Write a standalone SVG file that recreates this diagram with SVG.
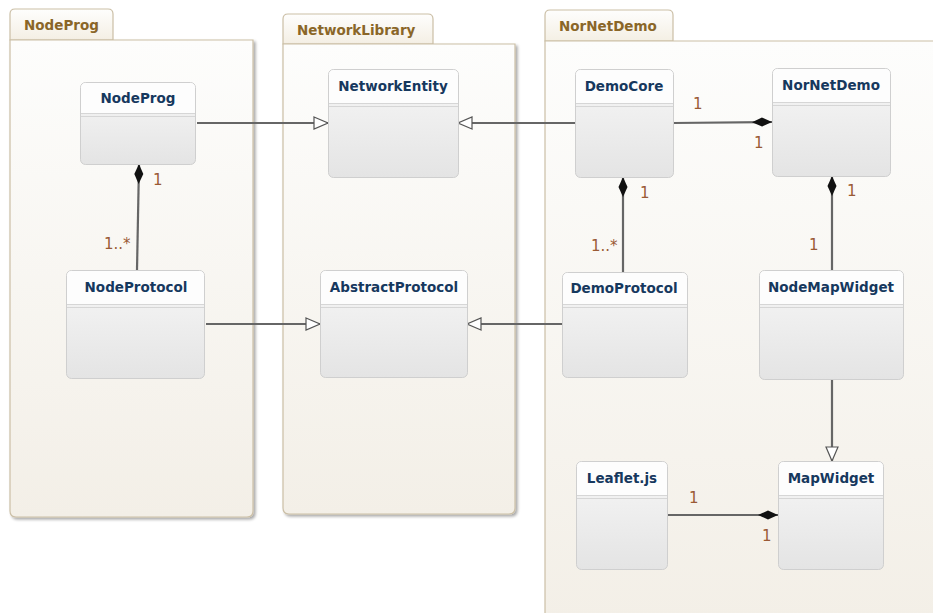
<svg xmlns="http://www.w3.org/2000/svg" width="933" height="613" viewBox="0 0 933 613">
  <defs>
    <linearGradient id="pkgBody" x1="0" y1="0" x2="0" y2="1">
      <stop offset="0" stop-color="#fdfdfc"/>
      <stop offset="1" stop-color="#f3efe7"/>
    </linearGradient>
    <linearGradient id="pkgTab" x1="0" y1="0" x2="0" y2="1">
      <stop offset="0" stop-color="#fefefd"/>
      <stop offset="1" stop-color="#f4efe4"/>
    </linearGradient>
    <linearGradient id="clsBody" x1="0" y1="0" x2="0" y2="1">
      <stop offset="0" stop-color="#f7f7f7"/>
      <stop offset="1" stop-color="#e4e4e4"/>
    </linearGradient>
    <filter id="shadow" x="-5%" y="-5%" width="110%" height="110%">
      <feGaussianBlur in="SourceAlpha" stdDeviation="1.5"/>
      <feOffset dx="2" dy="2"/>
      <feComponentTransfer><feFuncA type="linear" slope="0.35"/></feComponentTransfer>
      <feMerge><feMergeNode/><feMergeNode in="SourceGraphic"/></feMerge>
    </filter>
    <marker id="inherit" viewBox="0 0 16 14" refX="15" refY="7" markerWidth="16" markerHeight="14" markerUnits="userSpaceOnUse" orient="auto">
      <path d="M1,1 L15,7 L1,13 Z" fill="#ffffff" stroke="#555" stroke-width="1.2"/>
    </marker>
    <marker id="compose" viewBox="0 0 22 12" refX="21" refY="6" markerWidth="22" markerHeight="12" markerUnits="userSpaceOnUse" orient="auto">
      <path d="M1,6 L11,1.5 L21,6 L11,10.5 Z" fill="#111"/>
    </marker>
  </defs>
  <style>
    .pkg { fill: url(#pkgBody); stroke: #cbbfa6; stroke-width: 1.2; }
    .tab { fill: url(#pkgTab); stroke: #cbbfa6; stroke-width: 1.2; }
    .tabtxt { font-family: "DejaVu Sans", "Liberation Sans", sans-serif; font-weight: bold; font-size: 13.5px; fill: #8a6628; }
    .cls { fill: url(#clsBody); stroke: #cfcfcf; stroke-width: 1; }
    .hdr { fill: #fdfdfd; }
    .div { stroke: #d6d6d6; stroke-width: 1; fill: none; }
    .name { font-family: "DejaVu Sans", "Liberation Sans", sans-serif; font-weight: bold; font-size: 13.5px; fill: #16385e; text-anchor: middle; }
    .edge { stroke: #666; stroke-width: 2.2; fill: none; }
    .mult { font-family: "DejaVu Sans", "Liberation Sans", sans-serif; font-size: 15px; fill: #9a5a35; }
  </style>

  <rect width="933" height="613" fill="#ffffff"/>

  <!-- packages -->
  <g id="pkg-NodeProg">
    <path class="tab" d="M10,40 V14 Q10,9 15,9 H108 Q113,9 113,14 V40 Z"/>
    <path class="pkg" filter="url(#shadow)" d="M10,40 H253 V511 Q253,517 247,517 H16 Q10,517 10,511 Z"/>
    <text class="tabtxt" x="24" y="30">NodeProg</text>
  </g>
  <g id="pkg-NetworkLibrary">
    <path class="tab" d="M283,44 V19 Q283,14 288,14 H428 Q433,14 433,19 V44 Z"/>
    <path class="pkg" filter="url(#shadow)" d="M283,44 H515 V508 Q515,514 509,514 H289 Q283,514 283,508 Z"/>
    <text class="tabtxt" x="297" y="35">NetworkLibrary</text>
  </g>
  <g id="pkg-NorNetDemo">
    <path class="tab" d="M545,41 V15 Q545,10 550,10 H668 Q673,10 673,15 V41 Z"/>
    <path class="pkg" d="M545,41 H940 V620 H545 Z"/>
    <text class="tabtxt" x="559" y="31">NorNetDemo</text>
  </g>

  <!-- connectors -->
  <g id="connectors">
    <line class="edge" x1="197" y1="123" x2="328" y2="123" marker-end="url(#inherit)"/>
    <line class="edge" x1="575" y1="123" x2="458" y2="123" marker-end="url(#inherit)"/>
    <line class="edge" x1="206" y1="324" x2="320" y2="324" marker-end="url(#inherit)"/>
    <line class="edge" x1="562" y1="324" x2="467" y2="324" marker-end="url(#inherit)"/>
    <line class="edge" x1="832" y1="379" x2="832" y2="461" marker-end="url(#inherit)"/>
    <line class="edge" x1="673" y1="123" x2="772" y2="122" marker-end="url(#compose)"/>
    <line class="edge" x1="137" y1="270" x2="139" y2="164" marker-end="url(#compose)"/>
    <line class="edge" x1="623" y1="272" x2="623" y2="177" marker-end="url(#compose)"/>
    <line class="edge" x1="832" y1="270" x2="832" y2="176" marker-end="url(#compose)"/>
    <line class="edge" x1="667" y1="515" x2="778" y2="515" marker-end="url(#compose)"/>

    <text class="mult" x="153" y="185">1</text>
    <text class="mult" x="104" y="249">1..*</text>
    <text class="mult" x="693" y="109">1</text>
    <text class="mult" x="754" y="148">1</text>
    <text class="mult" x="640" y="198">1</text>
    <text class="mult" x="591" y="251">1..*</text>
    <text class="mult" x="847" y="196">1</text>
    <text class="mult" x="809" y="250">1</text>
    <text class="mult" x="689" y="503">1</text>
    <text class="mult" x="762" y="541">1</text>
  </g>

  <!-- classes -->
  <g id="NodeProg">
    <rect class="cls" x="80.5" y="82.5" width="115" height="82" rx="5"/>
    <path class="hdr" d="M81,113 V88 Q81,83 86,83 H190 Q195,83 195,88 V113 Z"/>
    <path class="div" d="M81,113.5 H195 M81,116.5 H195"/>
    <text class="name" x="138" y="103">NodeProg</text>
  </g>
  <g id="NetworkEntity">
    <rect class="cls" x="328.5" y="69.5" width="130" height="108" rx="5"/>
    <path class="hdr" d="M329,103 V75 Q329,70 334,70 H453 Q458,70 458,75 V103 Z"/>
    <path class="div" d="M329,103.5 H458 M329,106.5 H458"/>
    <text class="name" x="393" y="91">NetworkEntity</text>
  </g>
  <g id="DemoCore">
    <rect class="cls" x="575.5" y="69.5" width="98" height="108" rx="5"/>
    <path class="hdr" d="M576,103 V75 Q576,70 581,70 H668 Q673,70 673,75 V103 Z"/>
    <path class="div" d="M576,103.5 H673 M576,106.5 H673"/>
    <text class="name" x="624" y="91">DemoCore</text>
  </g>
  <g id="NorNetDemo">
    <rect class="cls" x="772.5" y="68.5" width="118" height="108" rx="5"/>
    <path class="hdr" d="M773,102 V74 Q773,69 778,69 H885 Q890,69 890,74 V102 Z"/>
    <path class="div" d="M773,102.5 H890 M773,105.5 H890"/>
    <text class="name" x="831" y="90">NorNetDemo</text>
  </g>
  <g id="NodeProtocol">
    <rect class="cls" x="66.5" y="270.5" width="138" height="108" rx="5"/>
    <path class="hdr" d="M67,304 V276 Q67,271 72,271 H199 Q204,271 204,276 V304 Z"/>
    <path class="div" d="M67,304.5 H204 M67,307.5 H204"/>
    <text class="name" x="136" y="292">NodeProtocol</text>
  </g>
  <g id="AbstractProtocol">
    <rect class="cls" x="320.5" y="270.5" width="147" height="107" rx="5"/>
    <path class="hdr" d="M321,304 V276 Q321,271 326,271 H462 Q467,271 467,276 V304 Z"/>
    <path class="div" d="M321,304.5 H467 M321,307.5 H467"/>
    <text class="name" x="394" y="292">AbstractProtocol</text>
  </g>
  <g id="DemoProtocol">
    <rect class="cls" x="562.5" y="272.5" width="125" height="105" rx="5"/>
    <path class="hdr" d="M563,304 V278 Q563,273 568,273 H682 Q687,273 687,278 V304 Z"/>
    <path class="div" d="M563,304.5 H687 M563,307.5 H687"/>
    <text class="name" x="624" y="293">DemoProtocol</text>
  </g>
  <g id="NodeMapWidget">
    <rect class="cls" x="759.5" y="270.5" width="144" height="109" rx="5"/>
    <path class="hdr" d="M760,304 V276 Q760,271 765,271 H898 Q903,271 903,276 V304 Z"/>
    <path class="div" d="M760,304.5 H903 M760,307.5 H903"/>
    <text class="name" x="831" y="292">NodeMapWidget</text>
  </g>
  <g id="Leaflet.js">
    <rect class="cls" x="576.5" y="461.5" width="91" height="108" rx="5"/>
    <path class="hdr" d="M577,495 V467 Q577,462 582,462 H662 Q667,462 667,467 V495 Z"/>
    <path class="div" d="M577,495.5 H667 M577,498.5 H667"/>
    <text class="name" x="622" y="483">Leaflet.js</text>
  </g>
  <g id="MapWidget">
    <rect class="cls" x="778.5" y="461.5" width="105" height="108" rx="5"/>
    <path class="hdr" d="M779,495 V467 Q779,462 784,462 H878 Q883,462 883,467 V495 Z"/>
    <path class="div" d="M779,495.5 H883 M779,498.5 H883"/>
    <text class="name" x="831" y="483">MapWidget</text>
  </g>
</svg>
